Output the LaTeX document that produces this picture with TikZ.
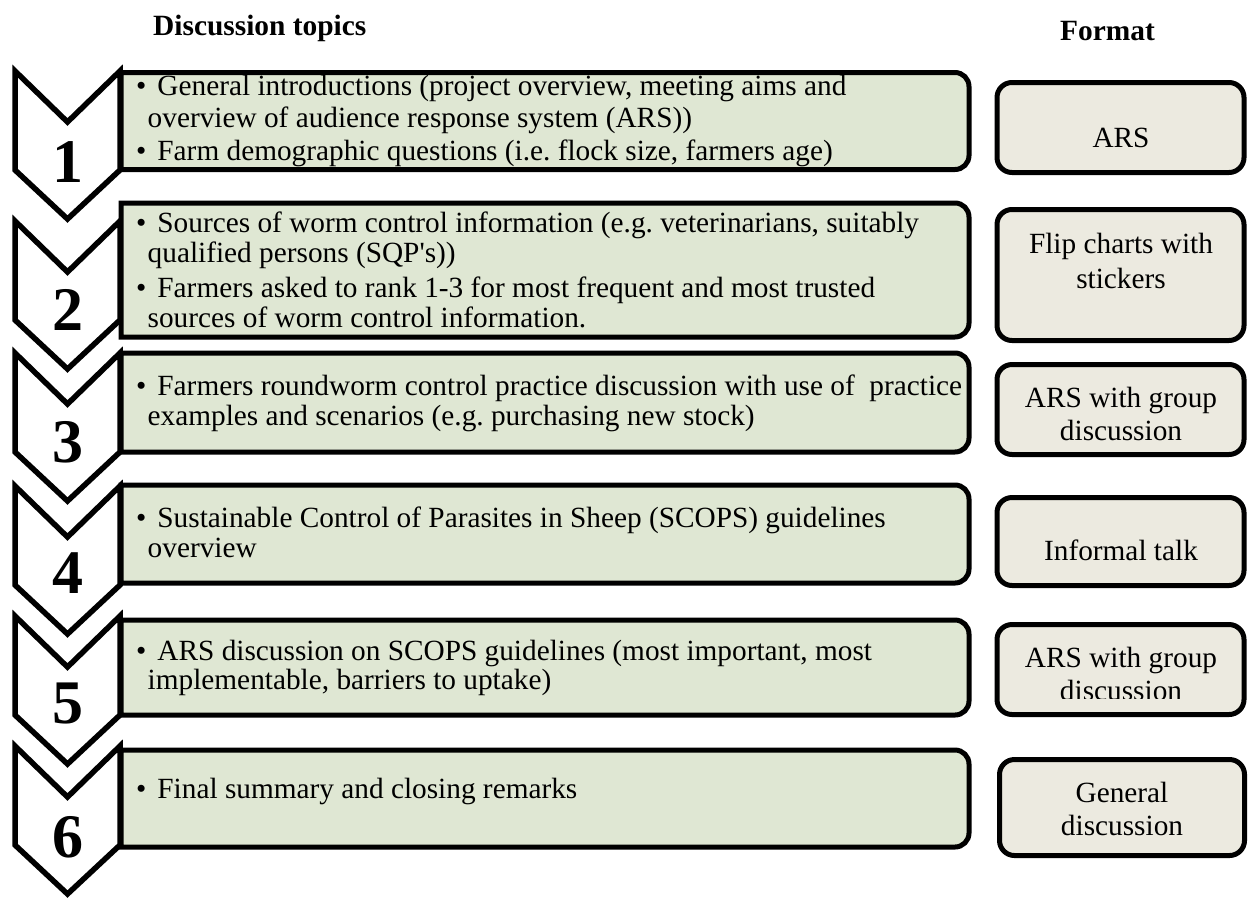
\documentclass[tikz,border=0pt]{standalone}
\usepackage{fontspec}
\setmainfont{Liberation Serif}
\frenchspacing
\definecolor{topicgreen}{RGB}{223,231,211}
\definecolor{fmtbeige}{RGB}{236,234,224}
% one chevron, given the y of its top corners
\newcommand\chevron[1]{%
  \draw[chev] (15,#1) -- (67.5,#1+51) -- (120,#1) -- (120,#1+99)
    -- (67.5,#1+148) -- (15,#1+99) -- cycle;}
% a topic box: square on the left, rounded on the right
\newcommand\topicbox[2]{%
  \draw[topicbox] (500,#1) [rounded corners=14pt] -- (969,#1) -- (969,#2)
    -- (500,#2) [sharp corners] -- (121,#2) -- (121,#1) -- cycle;}
\newcommand\bul{•\hspace{11pt}}
\begin{document}
\begin{tikzpicture}[x=1pt,y=-1pt,
  chev/.style={draw=black,fill=white,line width=5.5pt,line join=miter},
  topicbox/.style={draw=black,fill=topicgreen,line width=5pt},
  fmtbox/.style={draw=black,fill=fmtbeige,line width=5pt,rounded corners=15pt},
  body/.style={font=\fontsize{29.3}{33}\selectfont,inner sep=0pt},
  tline/.style={body,anchor=base west},
  fline/.style={body,anchor=base},
  num/.style={font=\fontsize{62}{62}\selectfont\bfseries,inner sep=0pt,anchor=base},
  head/.style={font=\fontsize{29.4}{31}\selectfont\bfseries,inner sep=0pt,anchor=base west}]
\useasboundingbox (0,0) rectangle (1250,898);

% column headings
\node[head] (hd1) at (153,35) {Discussion topics};
\node[head] (hd2) at (1060,40) {Format};

% topic boxes
\topicbox{72.5}{169.5}
\topicbox{203}{337}
\topicbox{353}{452}
\topicbox{485}{583}
\topicbox{620}{715}
\topicbox{750}{847}

% step chevrons
\chevron{71}
\chevron{221}
\chevron{353}
\chevron{486}
\chevron{616}
\chevron{746}

% step numbers
\node[num] (n1) at (67.5,182) {1};
\node[num] (n2) at (67.5,330) {2};
\node[num] (n3) at (67.5,462) {3};
\node[num] (n4) at (67.5,593) {4};
\node[num] (n5) at (67.5,723) {5};
\node[num] (n6) at (67.5,857) {6};

% topic texts
\node[tline] (t1a) at (136,95)  {\bul General introductions (project overview, meeting aims and};
\node[tline] (t1b) at (147.5,127) {overview of audience response system (ARS))};
\node[tline] (t1c) at (136,160) {\bul Farm demographic questions (i.e. flock size, farmers age)};

\node[tline] (t2a) at (136,232) {\bul Sources of worm control information (e.g. veterinarians, suitably};
\node[tline] (t2b) at (147.5,262) {qualified persons (SQP\textquotesingle s))};
\node[tline] (t2c) at (136,297) {\bul Farmers asked to rank 1-3 for most frequent and most trusted};
\node[tline] (t2d) at (147.5,327) {sources of worm control information.};

\node[tline] (t3a) at (136,395) {\bul Farmers roundworm control practice discussion with use of\ \ practice};
\node[tline] (t3b) at (147.5,425) {examples and scenarios (e.g. purchasing new stock)};

\node[tline] (t4a) at (136,527) {\bul Sustainable Control of Parasites in Sheep (SCOPS) guidelines};
\node[tline] (t4b) at (147.5,557) {overview};

\node[tline] (t5a) at (136,660) {\bul ARS discussion on SCOPS guidelines (most important, most};
\node[tline] (t5b) at (147.5,689) {implementable, barriers to uptake)};

\node[tline] (t6a) at (136,798) {\bul Final summary and closing remarks};

% format boxes
\draw[fmtbox] (997,82.5) rectangle (1244,172.5);
\draw[fmtbox] (997,209.5) rectangle (1244,340.5);
\draw[fmtbox] (997,364.5) rectangle (1244,454.5);
\draw[fmtbox] (997,497.5) rectangle (1244,585.5);
\draw[fmtbox] (997,624.5) rectangle (1244,714.5);
\draw[fmtbox] (999.5,759.5) rectangle (1244.5,855.5);

% format texts
\node[fline] (f1a) at (1121,147) {ARS};
\node[fline] (f2a) at (1121,253) {Flip charts with};
\node[fline] (f2b) at (1121,288) {stickers};
\node[fline] (f3a) at (1121,407) {ARS with group};
\node[fline] (f3b) at (1121,440) {discussion};
\node[fline] (f4a) at (1121,560) {Informal talk};
\node[fline] (f5a) at (1121,667) {ARS with group};
\begin{scope}
  \clip (990,640) rectangle (1250,698);
  \node[fline] (f5b) at (1121,700) {discussion};
\end{scope}
\node[fline] (f6a) at (1122,802) {General};
\node[fline] (f6b) at (1122,835) {discussion};
\end{tikzpicture}
\end{document}
